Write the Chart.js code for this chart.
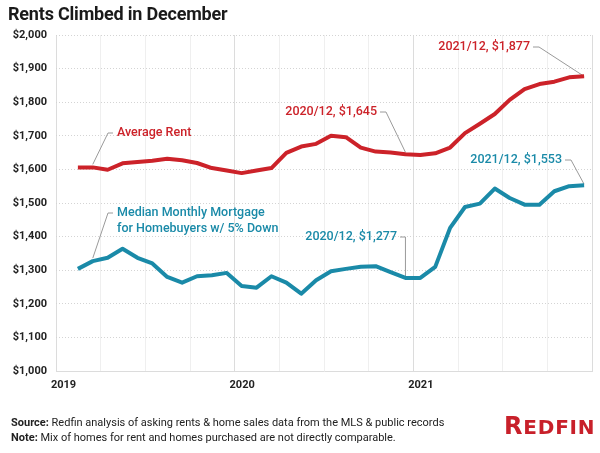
<!DOCTYPE html>
<html>
<head>
<meta charset="utf-8">
<script src="https://cdn.jsdelivr.net/npm/chart.js@4.4.1/dist/chart.umd.min.js"></script>
<style>
  html, body { margin: 0; padding: 0; background: #fff; }
  #wrap { position: relative; width: 600px; height: 453px; font-family: Roboto, sans-serif; color: #222; overflow: hidden; }
  #title { position: absolute; left: 8px; top: 3px; font-size: 18px; font-weight: 700; color: #1a1a1a; letter-spacing: -0.2px; }
  #chart { position: absolute; left: 0; top: 0; }
  #notes { position: absolute; left: 11px; top: 416px; font-size: 11px; line-height: 14.5px; color: #222; }
  #notes b { font-weight: 700; }
  #logo { position: absolute; left: 504px; top: 414px; line-height: 1; color: #c8202a; font-family: 'DejaVu Sans', sans-serif; font-weight: 700; white-space: nowrap; letter-spacing: 0.8px; }
  #logo .big { font-size: 24px; }
  #logo .small { font-size: 20px; }
</style>
</head>
<body>
<div id="wrap">
  <canvas id="chart" width="600" height="453"></canvas>
  <div id="title">Rents Climbed in December</div>
  <div id="notes">
    <div><b>Source:</b> Redfin analysis of asking rents &amp; home sales data from the MLS &amp; public records</div>
    <div><b>Note:</b> Mix of homes for rent and homes purchased are not directly comparable.</div>
  </div>
  <div id="logo"><span class="big">R</span><span class="small">EDFIN</span></div>
</div>
<script>
const RED = '#cc2229';
const BLUE = '#1a8aa8';

// months Feb 2019 .. Dec 2021
const months = [
  '2019-02', '2019-03', '2019-04', '2019-05', '2019-06', '2019-07', '2019-08', '2019-09', '2019-10', '2019-11', '2019-12',
  '2020-01', '2020-02', '2020-03', '2020-04', '2020-05', '2020-06', '2020-07', '2020-08', '2020-09', '2020-10', '2020-11', '2020-12',
  '2021-01', '2021-02', '2021-03', '2021-04', '2021-05', '2021-06', '2021-07', '2021-08', '2021-09', '2021-10', '2021-11', '2021-12'
];

const averageRent = [
  1606, 1606, 1599, 1618, 1622, 1626, 1632, 1627, 1619, 1604, 1597,
  1589, 1597, 1604, 1649, 1668, 1676, 1700, 1696, 1665, 1653, 1650, 1645,
  1643, 1648, 1665, 1708, 1736, 1765, 1807, 1839, 1854, 1861, 1874, 1877
];

const medianMortgage = [
  1304, 1327, 1337, 1364, 1337, 1320, 1280, 1263, 1282, 1285, 1292,
  1253, 1248, 1282, 1263, 1230, 1270, 1297, 1304, 1310, 1312, 1294, 1277,
  1277, 1310, 1426, 1488, 1498, 1543, 1515, 1495, 1495, 1535, 1550, 1553
];

const yearLabels = ['2019', '2020', '2021'];

// month position on the axis: Jan 2019 = 0, points sit mid-month
function monthPos(m) {
  const [y, mo] = m.split('-').map(Number);
  return (y - 2019) * 12 + (mo - 1) + 0.47;
}

const toPoints = vals => vals.map((v, i) => ({ x: monthPos(months[i]), y: v }));

// callouts: text position in pixels, leader goes to a data point
const callouts = [
  { lines: ['Average Rent'], color: RED, x: 117, y: 133, align: 'left', ds: 0, idx: 1, endDy: -3 },
  { lines: ['Median Monthly Mortgage', 'for Homebuyers w/ 5% Down'], color: BLUE, x: 117, y: 213, align: 'left', ds: 1, idx: 1, endDy: -3 },
  { lines: ['2020/12, $1,645'], color: RED, x: 377, y: 112, align: 'right', ds: 0, idx: 22, endDy: -2 },
  { lines: ['2021/12, $1,877'], color: RED, x: 530, y: 47, align: 'right', ds: 0, idx: 34, endDy: 0 },
  { lines: ['2021/12, $1,553'], color: BLUE, x: 562, y: 160, align: 'right', ds: 1, idx: 34, endDy: -1 },
  { lines: ['2020/12, $1,277'], color: BLUE, x: 397, y: 237, align: 'right', ds: 1, idx: 22, endDy: -1, vertical: true }
];

const calloutPlugin = {
  id: 'callouts',
  beforeDatasetsDraw(chart) {
    const ctx = chart.ctx;
    ctx.save();
    ctx.strokeStyle = '#9a9a9a';
    ctx.lineWidth = 1;
    callouts.forEach(c => {
      const pt = chart.getDatasetMeta(c.ds).data[c.idx];
      const sx = c.align === 'left' ? c.x - 4 : c.x + 3;
      let ex = c.align === 'left' ? c.x - 9 : c.x + 9;
      if (c.vertical) ex = pt.x;
      ctx.beginPath();
      ctx.moveTo(sx, c.y);
      ctx.lineTo(ex, c.y);
      ctx.lineTo(pt.x, pt.y + c.endDy);
      ctx.stroke();
    });
    ctx.restore();
  },
  afterDatasetsDraw(chart) {
    const ctx = chart.ctx;
    ctx.save();
    ctx.font = '500 12.5px Roboto';
    ctx.textBaseline = 'middle';
    callouts.forEach(c => {
      ctx.fillStyle = c.color;
      ctx.textAlign = c.align;
      c.lines.forEach((t, k) => ctx.fillText(t, c.x, c.y + k * 16));
    });
    ctx.restore();
  }
};

new Chart(document.getElementById('chart').getContext('2d'), {
  type: 'line',
  data: {
    datasets: [
      {
        label: 'Average Rent',
        data: toPoints(averageRent),
        borderColor: RED,
        borderWidth: 4,
        pointRadius: 0,
        borderJoinStyle: 'round',
        fill: false
      },
      {
        label: 'Median Monthly Mortgage for Homebuyers w/ 5% Down',
        data: toPoints(medianMortgage),
        borderColor: BLUE,
        borderWidth: 4,
        pointRadius: 0,
        borderJoinStyle: 'round',
        fill: false
      }
    ]
  },
  options: {
    responsive: false,
    animation: false,
    layout: { padding: { left: 0, top: 35, right: 6, bottom: 0 } },
    plugins: {
      legend: { display: false },
      tooltip: { enabled: false }
    },
    scales: {
      x: {
        type: 'linear',
        min: 0,
        max: 36,
        afterFit: scale => { scale.height = 82; },
        ticks: {
          stepSize: 3,
          autoSkip: false,
          maxRotation: 0,
          labelOffset: 7.5,
          padding: 8,
          color: '#222',
          font: { family: 'Roboto', size: 11, weight: 'bold' },
          callback: v => (v % 12 === 0 && v < 36 ? yearLabels[v / 12] : '')
        },
        grid: {
          drawTicks: false,
          color: c => (c.tick && c.tick.value % 12 === 0 ? '#dcdcdc' : '#efefef')
        },
        border: { color: '#dcdcdc' }
      },
      y: {
        min: 1000,
        max: 2000,
        afterFit: scale => { scale.width = 56; },
        ticks: {
          stepSize: 100,
          padding: 9,
          color: '#222',
          font: { family: 'Roboto', size: 11, weight: 'bold' },
          callback: v => '$' + v.toLocaleString('en-US')
        },
        grid: { drawTicks: false, color: '#d4d4d4' },
        border: { display: false, dash: [1, 2] }
      }
    }
  },
  plugins: [calloutPlugin]
});
</script>
</body>
</html>
